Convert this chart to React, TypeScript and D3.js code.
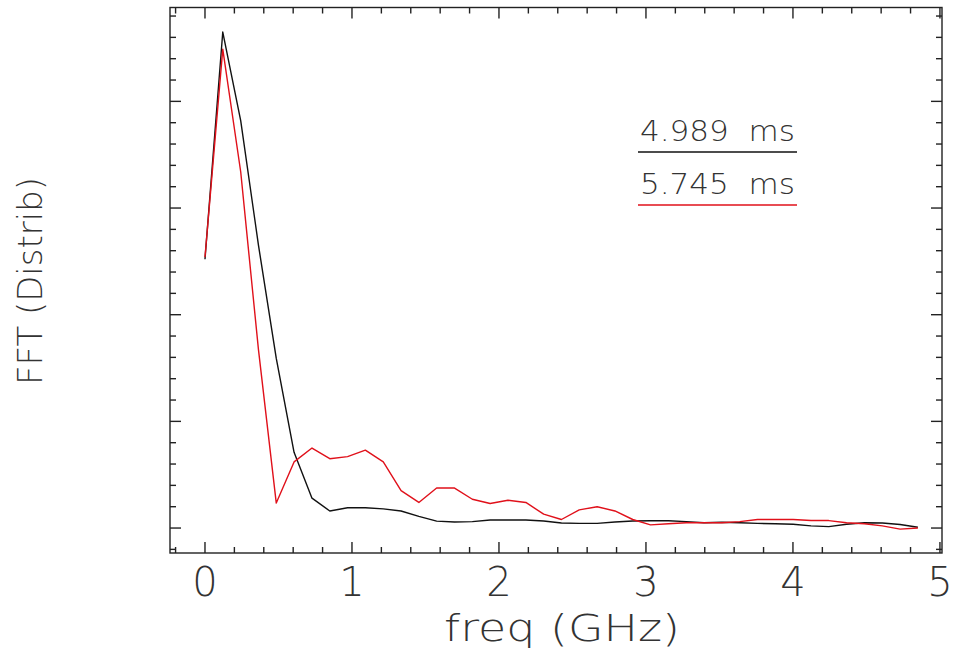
import React from "react";
import * as d3 from "d3";

const freq = [0, 0.121, 0.243, 0.364, 0.485, 0.606, 0.728, 0.849, 0.970, 1.091, 1.213, 1.334, 1.455, 1.576, 1.698, 1.819, 1.940, 2.061, 2.183, 2.304, 2.425, 2.546, 2.668, 2.789, 2.910, 3.031, 3.153, 3.274, 3.395, 3.516, 3.638, 3.759, 3.880, 4.001, 4.123, 4.244, 4.365, 4.486, 4.608, 4.729, 4.850];

const fftA = [2.52, 4.65, 3.82, 2.65, 1.59, 0.71, 0.28, 0.16, 0.19, 0.19, 0.18, 0.16, 0.11, 0.065, 0.056, 0.06, 0.075, 0.075, 0.075, 0.066, 0.047, 0.044, 0.044, 0.056, 0.066, 0.068, 0.068, 0.06, 0.05, 0.054, 0.05, 0.044, 0.04, 0.035, 0.02, 0.013, 0.035, 0.05, 0.047, 0.033, 0.007];

const fftB = [2.54, 4.49, 3.34, 1.67, 0.234, 0.62, 0.75, 0.65, 0.67, 0.73, 0.62, 0.35, 0.24, 0.375, 0.375, 0.27, 0.23, 0.26, 0.24, 0.13, 0.08, 0.17, 0.20, 0.16, 0.08, 0.03, 0.04, 0.05, 0.05, 0.05, 0.06, 0.08, 0.08, 0.08, 0.07, 0.07, 0.05, 0.04, 0.02, -0.01, 0.0];

const seriesLabels = ["4.989  ms", "5.745  ms"];
const seriesColors = ["#111111", "#e0101a"];
const xTickLabels = ["0", "1", "2", "3", "4", "5"];
const xMajor = [0, 1, 2, 3, 4, 5];
const xMinor = [-0.2, 0.2, 0.4, 0.6, 0.8, 1.2, 1.4, 1.6, 1.8, 2.2, 2.4, 2.6, 2.8, 3.2, 3.4, 3.6, 3.8, 4.2, 4.4, 4.6, 4.8];
const yMajor = [0, 1, 2, 3, 4];
const yMinor = [-0.2, 0.2, 0.4, 0.6, 0.8, 1.2, 1.4, 1.6, 1.8, 2.2, 2.4, 2.6, 2.8, 3.2, 3.4, 3.6, 3.8, 4.2, 4.4, 4.6, 4.8];

const FONT = "'DejaVu Sans', 'Liberation Sans', sans-serif";

export default function App() {
  const L = 170, R = 942, T = 7.5, B = 553;
  const x = d3.scaleLinear().domain([-0.238, 5.014]).range([L, R]);
  const y = d3.scaleLinear().domain([-0.234, 4.88]).range([B, T]);
  const line = d3
    .line<number>()
    .x((_, i) => x(freq[i]))
    .y((d) => y(d));
  const series = [fftA, fftB];
  const maj = 11, min = 6;
  const axisColor = "#222";

  return (
    <svg
      width={954}
      height={666}
      style={{ position: "absolute", left: 0, top: 0, background: "#fff" }}
    >
      <rect x={0} y={0} width={954} height={666} fill="#fff" />
      <g stroke={axisColor} strokeWidth={1.4}>
        {xMajor.map((t) => (
          <g key={"xM" + t}>
            <line x1={x(t)} x2={x(t)} y1={B} y2={B - maj} />
            <line x1={x(t)} x2={x(t)} y1={T} y2={T + maj} />
          </g>
        ))}
        {xMinor.map((t) => (
          <g key={"xm" + t}>
            <line x1={x(t)} x2={x(t)} y1={B} y2={B - min} />
            <line x1={x(t)} x2={x(t)} y1={T} y2={T + min} />
          </g>
        ))}
        {yMajor.map((t) => (
          <g key={"yM" + t}>
            <line x1={L} x2={L + maj} y1={y(t)} y2={y(t)} />
            <line x1={R} x2={R - maj} y1={y(t)} y2={y(t)} />
          </g>
        ))}
        {yMinor.map((t) => (
          <g key={"ym" + t}>
            <line x1={L} x2={L + min} y1={y(t)} y2={y(t)} />
            <line x1={R} x2={R - min} y1={y(t)} y2={y(t)} />
          </g>
        ))}
        <rect x={L} y={T} width={R - L} height={B - T} fill="none" />
      </g>

      {series.map((s, k) => (
        <path
          key={"s" + k}
          d={line(s) || ""}
          fill="none"
          stroke={seriesColors[k]}
          strokeWidth={1.4}
          strokeLinejoin="round"
        />
      ))}

      <g fontFamily={FONT} fontWeight={200} fill="#333">
        {xMajor.map((t, i) => (
          <text key={"xl" + t} x={x(t)} y={596} fontSize={40} textAnchor="middle">
            {xTickLabels[i]}
          </text>
        ))}
        <text
          x={562}
          y={641}
          fontSize={38}
          textAnchor="middle"
          textLength={236}
          lengthAdjust="spacingAndGlyphs"
          style={{ whiteSpace: "pre" }}
        >
          {"freq (GHz)"}
        </text>
        <text
          transform="translate(42,281) rotate(-90)"
          fontSize={33}
          textAnchor="middle"
          textLength={208}
          lengthAdjust="spacingAndGlyphs"
          style={{ whiteSpace: "pre" }}
        >
          {"FFT (Distrib)"}
        </text>
        {seriesLabels.map((lab, k) => (
          <text
            key={"lg" + k}
            x={640}
            y={141 + k * 53}
            fontSize={28}
            textLength={155}
            lengthAdjust="spacingAndGlyphs"
            style={{ whiteSpace: "pre" }}
          >
            {lab}
          </text>
        ))}
      </g>
      {seriesColors.map((c, k) => (
        <line
          key={"ll" + k}
          x1={638}
          x2={797}
          y1={152 + k * 53}
          y2={152 + k * 53}
          stroke={c}
          strokeWidth={1.4}
        />
      ))}
    </svg>
  );
}
